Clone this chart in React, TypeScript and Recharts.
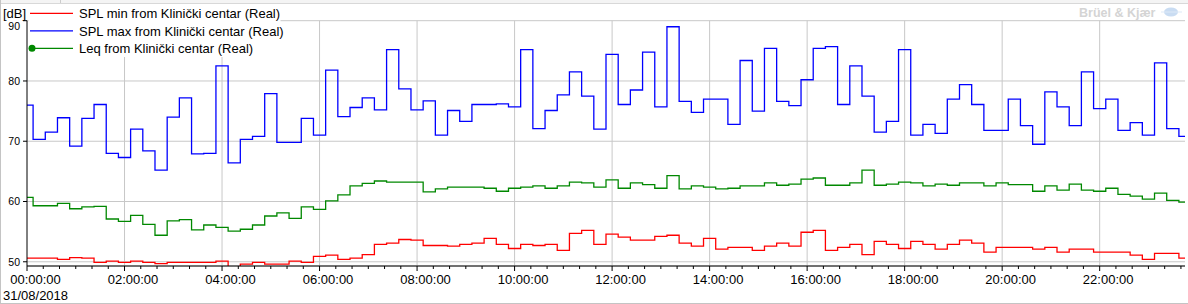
import { LineChart, Line, XAxis, YAxis, CartesianGrid, ReferenceLine } from 'recharts';

// 15-minute intervals over the day
const times = [
  '00:00', '00:15', '00:30', '00:45', '01:00', '01:15', '01:30', '01:45',
  '02:00', '02:15', '02:30', '02:45', '03:00', '03:15', '03:30', '03:45',
  '04:00', '04:15', '04:30', '04:45', '05:00', '05:15', '05:30', '05:45',
  '06:00', '06:15', '06:30', '06:45', '07:00', '07:15', '07:30', '07:45',
  '08:00', '08:15', '08:30', '08:45', '09:00', '09:15', '09:30', '09:45',
  '10:00', '10:15', '10:30', '10:45', '11:00', '11:15', '11:30', '11:45',
  '12:00', '12:15', '12:30', '12:45', '13:00', '13:15', '13:30', '13:45',
  '14:00', '14:15', '14:30', '14:45', '15:00', '15:15', '15:30', '15:45',
  '16:00', '16:15', '16:30', '16:45', '17:00', '17:15', '17:30', '17:45',
  '18:00', '18:15', '18:30', '18:45', '19:00', '19:15', '19:30', '19:45',
  '20:00', '20:15', '20:30', '20:45', '21:00', '21:15', '21:30', '21:45',
  '22:00', '22:15', '22:30', '22:45', '23:00', '23:15', '23:30', '23:45',
];

const splMin = [
  50.6, 50.6, 50.6, 50.4, 50.7, 50.6, 49.9, 50.1, 49.9, 50.1, 49.9, 49.7,
  49.9, 49.9, 49.9, 49.9, 50.1, 48.8, 49.6, 49.9, 49.6, 49.6, 50.1, 49.9,
  50.9, 51.1, 50.4, 50.6, 51.2, 52.9, 53.1, 53.7, 53.6, 52.7, 52.7, 52.6,
  52.9, 53.1, 53.9, 52.9, 52.2, 52.9, 52.7, 52.9, 51.9, 54.7, 55.2, 52.9,
  54.6, 54.1, 53.6, 53.6, 54.2, 54.4, 53.1, 52.6, 53.9, 52.1, 52.4, 52.4,
  51.9, 52.6, 53.1, 52.6, 54.9, 55.2, 51.9, 52.4, 52.9, 51.2, 53.4, 52.9,
  52.2, 53.4, 52.9, 52.1, 52.9, 53.6, 53.1, 51.6, 52.4, 52.4, 52.4, 52.1,
  52.4, 51.6, 52.1, 52.1, 51.6, 51.6, 51.6, 51.1, 50.4, 51.4, 51.4, 50.6,
];

const splMax = [
  76.0, 70.3, 71.5, 73.9, 69.2, 73.8, 76.1, 68.0, 67.3, 72.0, 68.4, 65.2,
  74.0, 77.2, 67.9, 68.0, 82.5, 66.4, 70.3, 70.8, 77.9, 69.8, 69.8, 73.8,
  71.0, 81.8, 74.1, 75.6, 77.2, 75.2, 85.2, 78.7, 75.2, 76.7, 71.0, 75.1,
  73.3, 76.1, 76.1, 76.2, 75.7, 85.2, 72.1, 75.1, 77.7, 81.5, 77.5, 72.0,
  84.4, 76.1, 78.5, 84.8, 75.7, 89.0, 76.6, 74.8, 77.0, 77.0, 72.8, 83.4,
  75.0, 85.4, 76.6, 75.9, 80.2, 85.4, 85.7, 76.1, 82.5, 77.5, 71.5, 73.3,
  85.2, 71.0, 72.8, 71.3, 77.0, 79.4, 76.1, 71.8, 71.8, 77.0, 72.6, 69.5,
  78.2, 75.7, 72.6, 81.5, 75.4, 77.0, 71.8, 73.1, 71.0, 83.0, 72.1, 70.8,
];

const leq = [
  60.7, 59.3, 59.3, 59.7, 58.8, 59.1, 59.2, 57.1, 56.7, 57.7, 56.2, 54.4,
  56.8, 57.0, 55.3, 56.1, 55.7, 55.1, 55.4, 56.1, 57.6, 58.1, 57.2, 59.1,
  58.7, 60.1, 61.1, 62.6, 63.0, 63.4, 63.2, 63.2, 63.2, 61.6, 62.1, 62.4,
  62.4, 62.4, 62.2, 61.7, 62.2, 62.4, 62.6, 62.2, 62.6, 63.2, 63.1, 62.4,
  63.6, 62.2, 63.1, 62.8, 62.2, 64.3, 62.1, 62.6, 62.4, 62.1, 62.2, 62.6,
  62.6, 63.1, 62.7, 62.9, 63.7, 63.9, 62.7, 62.7, 63.1, 65.2, 62.7, 62.9,
  63.2, 63.1, 62.6, 62.9, 62.7, 63.1, 63.1, 62.6, 63.1, 62.8, 62.8, 61.7,
  62.6, 61.9, 62.9, 61.9, 61.7, 62.2, 61.2, 60.9, 60.4, 61.4, 60.2, 59.9,
];

const hourLabels = [
  '00:00:00', '02:00:00', '04:00:00', '06:00:00', '08:00:00', '10:00:00',
  '12:00:00', '14:00:00', '16:00:00', '18:00:00', '20:00:00', '22:00:00',
];
const dateLabel = '31/08/2018';
const yTicks = [50, 60, 70, 80, 90];
const unitLabel = '[dB]';

const series = [
  { key: 'min', name: 'SPL min from Klinički centar (Real)', color: '#ff0000', marker: false },
  { key: 'max', name: 'SPL max from Klinički centar (Real)', color: '#0000ff', marker: false },
  { key: 'leq', name: 'Leq from Klinički centar (Real)', color: '#008800', marker: true },
];

const toHours = (t: string) => {
  const [h, m] = t.split(':').map(Number);
  return h + m / 60;
};

const data = times.map((t, i) => ({
  t: toHours(t),
  min: splMin[i],
  max: splMax[i],
  leq: leq[i],
}));

const gridHours = hourLabels.slice(1).map(toHours);
const minorTicks: number[] = [];
for (let m = 0; m <= 23 * 60 + 45; m += 20) minorTicks.push(m / 60);

const FONT = '"Liberation Sans", Arial, sans-serif';

function TimeTick({ x, y, payload }: any) {
  const mins = Math.round(payload.value * 60);
  const major = mins % 120 === 0;
  return (
    <g>
      <line x1={x} x2={x} y1={y} y2={y + (major ? 5 : 3)} stroke="#000" />
      {major && (
        <text x={x + 8.5} y={y + 18} textAnchor="middle" fontSize={13} fontFamily={FONT} fill="#000">
          {hourLabels[mins / 120]}
        </text>
      )}
    </g>
  );
}

function LevelTick({ x, y, payload }: any) {
  const top = payload.value === 90;
  return (
    <g>
      <line x1={x - 4} x2={x} y1={y} y2={y} stroke="#000" />
      <text x={x - 7} y={y + (top ? 9.3 : 3.8)} textAnchor="end" fontSize={10.5} fontFamily={FONT} fill="#000">
        {payload.value}
      </text>
    </g>
  );
}

export default function App() {
  return (
    <div style={{ position: 'absolute', left: 0, top: 0, width: 1188, height: 304, background: '#fff', overflow: 'hidden' }}>
      <LineChart width={1188} height={304} data={data} margin={{ top: 20.7, right: 3, left: 0, bottom: 0 }}>
        <CartesianGrid vertical={false} stroke="#c8c8c8" />
        {gridHours.map((h) => (
          <ReferenceLine key={h} x={h} stroke="#c8c8c8" />
        ))}
        <XAxis
          dataKey="t"
          type="number"
          domain={[0, 23.75]}
          ticks={minorTicks}
          interval={0}
          tick={(p: any) => <TimeTick {...p} />}
          tickLine={false}
          tickSize={0}
          tickMargin={0}
          height={38}
          axisLine={{ stroke: '#000' }}
          allowDataOverflow
        />
        <YAxis
          type="number"
          domain={[49.3, 90]}
          ticks={yTicks}
          interval={0}
          width={27}
          tick={(p: any) => <LevelTick {...p} />}
          tickLine={false}
          tickSize={0}
          tickMargin={0}
          axisLine={{ stroke: '#000' }}
          allowDataOverflow
        />
        {series.map((s) => (
          <Line
            key={s.key}
            type="step"
            dataKey={s.key}
            name={s.name}
            stroke={s.color}
            strokeWidth={1.3}
            dot={false}
            isAnimationActive={false}
          />
        ))}
      </LineChart>

      <svg width={1188} height={304} style={{ position: 'absolute', left: 0, top: 0, pointerEvents: 'none' }}>
        {/* header strip and frame */}
        <rect x={0} y={0} width={1188} height={3} fill="#f4f4f4" />
        <line x1={0} x2={1188} y1={3.5} y2={3.5} stroke="#d8d8d8" />
        <line x1={60.5} x2={60.5} y1={0} y2={3} stroke="#cccccc" />
        <line x1={0.5} x2={0.5} y1={0} y2={304} stroke="#c4c4c4" />
        <line x1={0} x2={1188} y1={303.5} y2={303.5} stroke="#c4c4c4" />

        <text x={3} y={17.5} fontSize={13} fontFamily={FONT} fill="#000">{unitLabel}</text>
        <text x={3} y={300} fontSize={13} fontFamily={FONT} fill="#000">{dateLabel}</text>

        {/* legend */}
        <rect x={28.5} y={4} width={252} height={53} fill="#fff" />
        {series.map((s, i) => {
          const cy = 13.3 + i * 17.5;
          return (
            <g key={s.key}>
              <line x1={30} x2={73} y1={cy} y2={cy} stroke={s.color} strokeWidth={1.2} />
              {s.marker && <circle cx={32} cy={cy} r={3.5} fill={s.color} />}
              <text x={79} y={cy + 5} fontSize={13} fontFamily={FONT} fill="#000">{s.name}</text>
            </g>
          );
        })}

        {/* watermark */}
        <text x={1079} y={16.5} fontSize={12.5} fontWeight="bold" fontFamily={FONT} fill="#d4d4d4">Brüel &amp; Kjær</text>
        <ellipse cx={1171} cy={12} rx={7} ry={4.5} fill="#c9dcf2" />
        <line x1={1161} x2={1182} y1={12} y2={12} stroke="#dde9f7" />
      </svg>
    </div>
  );
}
